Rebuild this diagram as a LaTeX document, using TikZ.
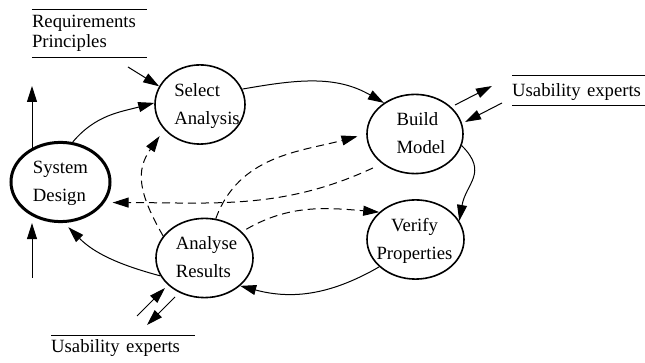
\documentclass[tikz,border=0pt]{standalone}
\usepackage{fontspec}
\setmainfont{Liberation Serif}
\usetikzlibrary{arrows.meta,shapes.geometric}
\newcommand\nodetxt[4]{\makebox[0pt]{\hspace*{#1}\begin{tabular}{@{}#2@{}}#3\\#4\end{tabular}}}
\begin{document}
\begin{tikzpicture}[x=1pt,y=1pt,
  every node/.style={font=\fontsize{18.7pt}{28pt}\selectfont},
  proc/.style={ellipse, draw, line width=1.6pt, inner sep=0pt},
  lab/.style={inner sep=0pt, align=left},
  rule/.style={line width=0.9pt},
  arr/.style={-{Triangle[length=16pt,width=10pt]}, line width=1pt},
  dsh/.style={arr, dash pattern=on 8pt off 5pt}]
\useasboundingbox (0,0) rectangle (645,363);

% processes
\node[proc, line width=3pt, minimum width=99pt, minimum height=78pt] (sd) at (60.5,181) {\nodetxt{0pt}{l}{System}{Design}};
\node[proc, minimum width=90pt, minimum height=78pt] (sa) at (200,258.5) {\nodetxt{14pt}{l}{Select}{Analysis}};
\node[proc, minimum width=96pt, minimum height=78pt] (bm) at (415,229) {\nodetxt{12pt}{l}{Build}{Model}};
\node[proc, minimum width=97pt, minimum height=78pt] (ar) at (204.5,105) {\nodetxt{4pt}{l}{Analyse}{Results}};
\node[proc, minimum width=97pt, minimum height=77pt] (vp) at (415.5,123.5) {\nodetxt{-2pt}{c}{Verify}{Properties}};

% labels with rules
\node[lab, text width=115pt, minimum height=48pt, font=\fontsize{18.7pt}{20pt}\selectfont] (req) at (89.5,329.6) {Requirements\\Principles};
\draw[rule] (req.north west) -- (req.north east);
\draw[rule] (req.south west) -- (req.south east);

\node[lab, text width=133pt, text height=21pt, text depth=8pt, anchor=base west] (ue1) at (512,266) {Usability experts};
\draw[rule] (ue1.north west) -- (ue1.north east);
\draw[rule] (ue1.south west) -- (ue1.south east);

\node[lab, text width=144pt, text height=17pt, text depth=4pt, anchor=base west] (ue2) at (51,10) {Usability experts};
\draw[rule] (ue2.north west) -- (ue2.north east);

% free ends
\coordinate (r1) at (128,296);
\coordinate (up) at (32,277);
\coordinate (dn) at (32,85);
\coordinate (b1) at (455,258);
\coordinate (b2) at (492,277);
\coordinate (b3) at (502,260);
\coordinate (b4) at (465,241);
\coordinate (c1) at (137,47);
\coordinate (c2) at (165,75);
\coordinate (c3) at (175,66);
\coordinate (c4) at (147,38);

% solid connectors
\draw[arr] (r1) -- (sa.156);
\draw[arr] (up |- sd.131) -- (up);
\draw[arr] (dn) -- (dn |- sd.south);
\draw[arr] (sd.73) to[out=50,in=195] (sa.178);
\draw[arr] (sa.20) to[out=10,in=150] (bm.135);
\draw[arr] (b1) -- (b2);
\draw[arr] (b3) -- (b4);
\draw[arr] (bm.346) to[out=-45,in=80,looseness=1.3] (vp.23);
\draw[arr] (vp.217) to[out=210,in=-15] (ar.322);
\draw[arr, shorten >=6pt] (ar.202) to[out=165,in=-45] (sd.275);
\draw[arr] (c1) -- (c2);
\draw[arr] (c3) -- (c4);

% dashed connectors
\draw[dsh, shorten >=8pt] (ar.152) to[out=120,in=235,looseness=1.2] (sa.215);
\draw[dsh, shorten >=9pt] (ar.74) to[out=70,in=195] (bm.180);
\draw[dsh, shorten <=10pt, shorten >=8pt] (bm.222) to[out=205,in=0] (sd.335);
\draw[dsh, shorten <=5pt] (ar.35) to[out=30,in=175] (vp.143);
\end{tikzpicture}
\end{document}
